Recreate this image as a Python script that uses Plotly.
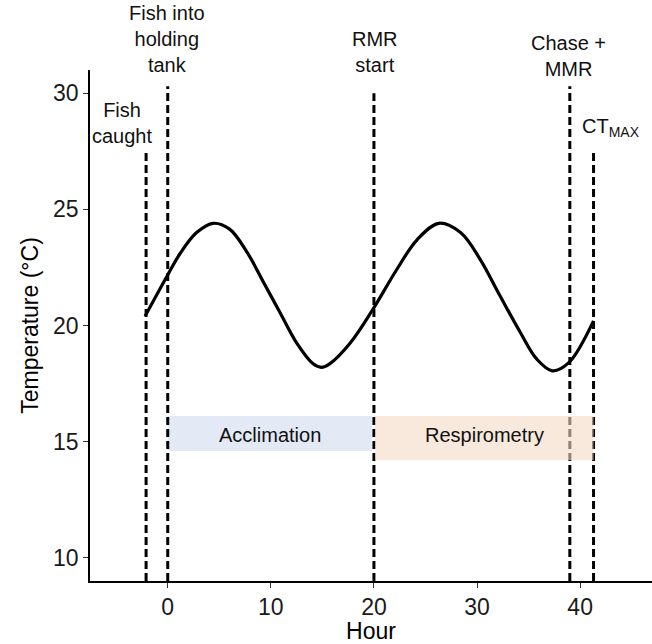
import plotly.graph_objects as go

# Daily temperature cycle experienced by the fish (hours relative to holding-tank entry)
hours = [-2.2, -0.1, 1.2, 2.8, 4.4, 6.0, 7.7, 9.3, 10.9, 12.5, 14.1, 14.9, 15.7,
         17.7, 19.9, 22.2, 24.2, 26.3, 28.4, 30.3, 32.2, 34.2, 35.8, 37.3, 38.9, 41.3]
temps = [20.4, 22.1, 23.1, 24.0, 24.4, 24.15, 23.15, 21.85, 20.55, 19.25, 18.35, 18.2, 18.35,
         19.25, 20.7, 22.4, 23.7, 24.4, 24.0, 22.85, 21.3, 19.7, 18.55, 18.05, 18.4, 20.2]

# Protocol events: time, top of marker line, label, label x, label y (paper)
event_hours = [-2.1, 0.0, 20.0, 39.0, 41.3]
event_tops = [27.6, 30.3, 30.0, 30.3, 27.6]
event_labels = ["Fish<br>caught", "Fish into<br>holding<br>tank", "RMR<br>start",
                "Chase +<br>MMR", "CT<sub>MAX</sub>"]
label_x = [-4.45, -0.1, 20.1, 38.9, 43.0]
label_y = [0.897, 1.061, 1.036, 1.028, 0.888]

# Experimental phases
phase_names = ["Acclimation", "Respirometry"]
phase_start = [0.0, 20.1]
phase_end = [19.8, 41.3]
phase_low = [14.6, 14.2]
phase_high = [16.1, 16.1]
phase_text_x = [9.9, 30.7]
phase_text_y = [15.3, 15.3]
phase_fill = ["#E3E9F5", "rgb(245,218,198)"]
phase_opacity = [1.0, 0.6]
phase_layer = ["below", "above"]

x_ticks = [0, 10, 20, 30, 40]
y_ticks = [10, 15, 20, 25, 30]

FONT = "Liberation Sans, Arial, sans-serif"

fig = go.Figure()

for h, top in zip(event_hours, event_tops):
    fig.add_trace(go.Scatter(
        x=[h, h], y=[9.0, top], mode="lines",
        line=dict(color="black", width=3, dash="8px,4px"),
        hoverinfo="skip", showlegend=False,
    ))

fig.add_trace(go.Scatter(
    x=hours, y=temps, mode="lines",
    line=dict(color="black", width=3.2, shape="spline", smoothing=1.0),
    showlegend=False,
))

for i in range(len(phase_names)):
    fig.add_shape(
        type="rect", xref="x", yref="y",
        x0=phase_start[i], x1=phase_end[i], y0=phase_low[i], y1=phase_high[i],
        fillcolor=phase_fill[i], opacity=phase_opacity[i],
        line=dict(width=0), layer=phase_layer[i],
    )
    fig.add_annotation(
        x=phase_text_x[i], y=phase_text_y[i], xref="x", yref="y",
        text=phase_names[i], showarrow=False,
        font=dict(family=FONT, size=20, color="#111111"),
    )

for lx, ly, txt in zip(label_x, label_y, event_labels):
    fig.add_annotation(
        x=lx, y=ly, xref="x", yref="paper", text=txt, showarrow=False,
        xanchor="center", yanchor="middle",
        font=dict(family=FONT, size=20, color="#111111"),
    )

axis_common = dict(
    showline=True, linecolor="black", linewidth=1.6,
    ticks="outside", ticklen=5, tickwidth=1.4, tickcolor="#333333",
    showgrid=False, zeroline=False,
    tickfont=dict(family=FONT, size=23, color="#1a1a1a"),
    title_font=dict(family=FONT, size=23, color="black"),
)

fig.update_xaxes(
    range=[-7.54, 46.97], tickvals=x_ticks, title_text="Hour",
    title_standoff=6, **axis_common,
)
fig.update_yaxes(
    range=[9.0, 31.0], tickvals=y_ticks, title_text="Temperature (°C)",
    title_standoff=8, **axis_common,
)

fig.update_layout(
    width=652, height=644,
    margin=dict(l=90, r=0, t=70, b=63),
    plot_bgcolor="white", paper_bgcolor="white",
    font=dict(family=FONT),
    showlegend=False,
)

fig.write_html("out.html")
